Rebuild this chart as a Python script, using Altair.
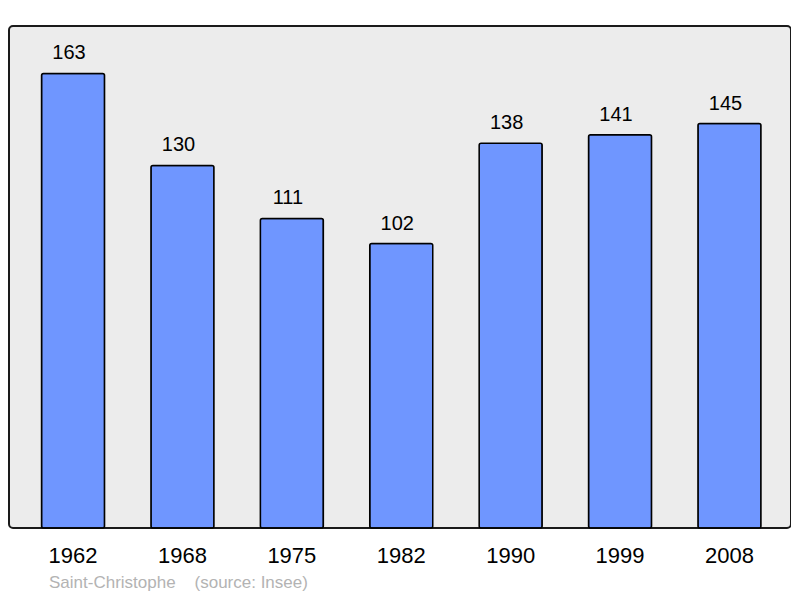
import altair as alt
import pandas as pd

years = ["1962", "1968", "1975", "1982", "1990", "1999", "2008"]
population = [163, 130, 111, 102, 138, 141, 145]
caption = "Saint-Christophe\u00a0\u00a0\u00a0\u00a0(source: Insee)"

df = pd.DataFrame({"year": years, "pop": population})

x = alt.X(
    "year:N",
    sort=years,
    title=None,
    scale=alt.Scale(paddingInner=0.424, paddingOuter=0.286, align=0.52),
    axis=alt.Axis(
        labelAngle=0,
        labelFontSize=22,
        labelFont="Liberation Sans",
        labelColor="#000000",
        labelPadding=17,
        ticks=False,
        domain=False,
    ),
)
y = alt.Y(
    "pop:Q",
    title=None,
    scale=alt.Scale(domain=[0, 180], nice=False, zero=True),
    axis=None,
)

bars = alt.Chart(df).mark_bar(
    color="#6f96ff",
    stroke="#000000",
    strokeWidth=1.5,
    cornerRadius=2,
).encode(x=x, y=y)

labels = alt.Chart(df).mark_text(
    baseline="alphabetic",
    dy=-14,
    dx=-4,
    fontSize=20,
    font="Liberation Sans",
    color="#000000",
).encode(x=x, y=y, text="pop:Q")

chart = (
    alt.layer(bars, labels)
    .properties(
        width=782,
        height=502,
        autosize=alt.AutoSizeParams(type="none"),
        padding={"left": 1, "top": 18, "right": 0, "bottom": 70},
        title=alt.TitleParams(
            text=caption,
            orient="bottom",
            anchor="start",
            fontSize=17,
            font="Liberation Sans",
            fontWeight="normal",
            color="#b3b3b3",
            dx=40,
            offset=9,
        ),
    )
    .configure_view(
        fill="#ececec",
        stroke="#1a1a1a",
        strokeWidth=2,
        cornerRadius=4,
    )
)

chart.save("out.html", embed_options={"renderer": "svg", "actions": False})
